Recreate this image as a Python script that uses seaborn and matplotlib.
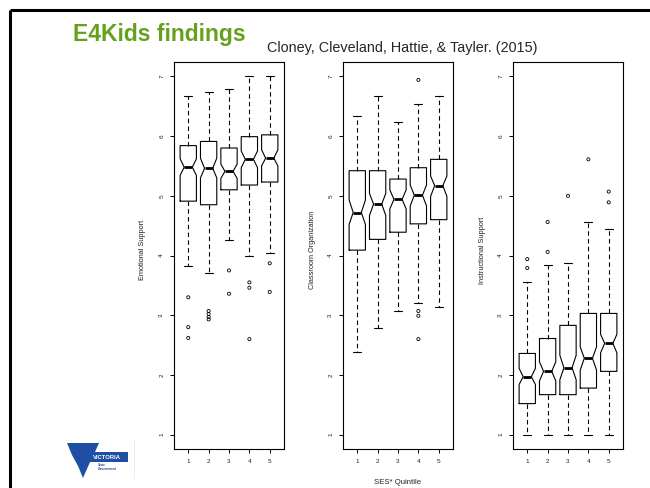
import matplotlib
matplotlib.use("Agg")
import matplotlib.pyplot as plt
import numpy as np
import pandas as pd
import seaborn as sns
from matplotlib.patches import Polygon, Rectangle

sns.set_style("white")
plt.rcParams["font.family"] = ["Liberation Sans", "DejaVu Sans"]

quintiles = [1, 2, 3, 4, 5]
y_ticks = [1, 2, 3, 4, 5, 6, 7]

# Emotional Support
emo_whislo = [3.83, 3.70, 4.26, 4.00, 4.05]
emo_q1 = [4.91, 4.85, 5.10, 5.18, 5.23]
emo_cilo = [5.34, 5.30, 5.29, 5.47, 5.50]
emo_med = [5.48, 5.46, 5.41, 5.61, 5.63]
emo_cihi = [5.62, 5.63, 5.53, 5.75, 5.77]
emo_q3 = [5.84, 5.91, 5.80, 5.99, 6.02]
emo_whishi = [6.67, 6.74, 6.79, 7.00, 7.00]
emo_out = [[3.30, 2.80, 2.62], [3.07, 3.02, 2.97, 2.93], [3.75, 3.36],
           [3.55, 3.46, 2.60], [3.87, 3.39]]

# Classroom Organization
org_whislo = [2.39, 2.78, 3.07, 3.20, 3.13]
org_q1 = [4.09, 4.27, 4.39, 4.53, 4.60]
org_cilo = [4.52, 4.67, 4.78, 4.83, 4.99]
org_med = [4.72, 4.86, 4.94, 5.01, 5.17]
org_cihi = [4.93, 5.04, 5.10, 5.18, 5.33]
org_q3 = [5.42, 5.42, 5.28, 5.47, 5.61]
org_whishi = [6.33, 6.67, 6.23, 6.54, 6.67]
org_out = [[], [], [], [6.94, 3.07, 2.99, 2.60], []]

# Instructional Support
ins_whislo = [1.00, 1.00, 1.00, 1.00, 1.00]
ins_q1 = [1.52, 1.67, 1.67, 1.78, 2.06]
ins_cilo = [1.84, 1.90, 1.92, 2.08, 2.37]
ins_med = [1.97, 2.06, 2.12, 2.28, 2.53]
ins_cihi = [2.11, 2.22, 2.33, 2.47, 2.68]
ins_q3 = [2.36, 2.61, 2.83, 3.03, 3.03]
ins_whishi = [3.56, 3.84, 3.88, 4.56, 4.44]
ins_out = [[3.94, 3.79], [4.56, 4.06], [5.00], [5.61], [5.07, 4.89]]

panels = [
    ("Emotional Support", emo_whislo, emo_q1, emo_cilo, emo_med, emo_cihi, emo_q3, emo_whishi, emo_out),
    ("Classroom Organization", org_whislo, org_q1, org_cilo, org_med, org_cihi, org_q3, org_whishi, org_out),
    ("Instructional Support", ins_whislo, ins_q1, ins_cilo, ins_med, ins_cihi, ins_q3, ins_whishi, ins_out),
]

W, H = 650, 488
fig = plt.figure(figsize=(6.5, 4.88), dpi=100)

# slide background layer (pixel coordinates)
bg = fig.add_axes([0, 0, 1, 1], zorder=-5)
bg.set_xlim(0, W)
bg.set_ylim(H, 0)
bg.axis("off")
bg.plot([10, W], [10, 10], color="black", lw=2.2, solid_capstyle="butt")
bg.plot([10, 10], [10, H], color="black", lw=2.2, solid_capstyle="butt")

# logo
blue = "#1f4fa3"
bg.add_patch(Polygon([(67, 443), (99, 443), (95, 452), (90, 462), (83, 478), (78, 466), (72, 455)],
                     closed=True, color=blue, lw=0))
bg.add_patch(Rectangle((86, 452), 42, 10, color=blue, lw=0))
bg.text(107, 457.5, "VICTORIA", color="white", fontsize=4.2, fontweight="bold",
        ha="center", va="center")
bg.text(98, 467, "State\nGovernment", color=blue, fontsize=2.3, fontweight="bold",
        ha="left", va="center", linespacing=1.0)
bg.plot([134, 134], [440, 478], color="#e6eaf2", lw=0.6)

fig.text(73 / W, 1 - 41 / H, "E4Kids findings", color="#66a11e", fontsize=16.5,
         fontweight="bold", ha="left", va="baseline")
fig.text(267 / W, 1 - 52 / H, "Cloney, Cleveland, Hattie, & Tayler. (2015)",
         fontsize=10.4, ha="left", va="baseline")

lefts = [174, 343, 513]
top, bottom, width = 62, 449, 110

for (label, wlo, q1, cilo, med, cihi, q3, whi, out), left in zip(panels, lefts):
    ax = fig.add_axes([left / W, 1 - bottom / H, width / W, (bottom - top) / H])
    ax.set_facecolor("white")
    stats = [
        dict(whislo=wlo[i], q1=q1[i], cilo=cilo[i], med=med[i], cihi=cihi[i],
             q3=q3[i], whishi=whi[i], fliers=[])
        for i in range(len(quintiles))
    ]
    ax.bxp(stats, positions=quintiles, widths=0.8, shownotches=True,
           showfliers=False, manage_ticks=False,
           boxprops=dict(color="black", lw=0.8),
           medianprops=dict(color="black", lw=2.0, solid_capstyle="butt"),
           whiskerprops=dict(color="black", lw=0.8, linestyle=(0, (4, 3))),
           capprops=dict(color="black", lw=0.8))

    out_df = pd.DataFrame({
        "quintile": [q for q, vals in zip(quintiles, out) for _ in vals],
        "value": [v for vals in out for v in vals],
    })
    if len(out_df):
        sns.scatterplot(data=out_df, x="quintile", y="value", ax=ax, marker="o",
                        s=5, facecolors="none", edgecolor="black", linewidth=0.6,
                        legend=False)

    ax.set_xlim(0.3, 5.7)
    ax.set_ylim(0.76, 7.24)
    ax.set_xticks(quintiles)
    ax.set_yticks(y_ticks)
    ax.set_xlabel("")
    ax.set_ylabel("")
    for s in ax.spines.values():
        s.set_visible(True)
        s.set_color("black")
        s.set_linewidth(0.8)
    ax.tick_params(bottom=True, left=True, direction="out", length=3, width=0.7,
                   color="black", labelsize=4.6, pad=4, labelcolor="#222222")
    for t in ax.get_yticklabels():
        t.set_rotation(90)
        t.set_va("center")
    fig.text((left - 31) / W, 1 - 250 / H, label, rotation=90, fontsize=5.3,
             ha="center", va="center", color="#222222")

fig.text(398 / W, 1 - 482 / H, "SES* Quintile", fontsize=5.6, ha="center",
         va="center", color="#222222")

fig.savefig("out.png", dpi=100)
